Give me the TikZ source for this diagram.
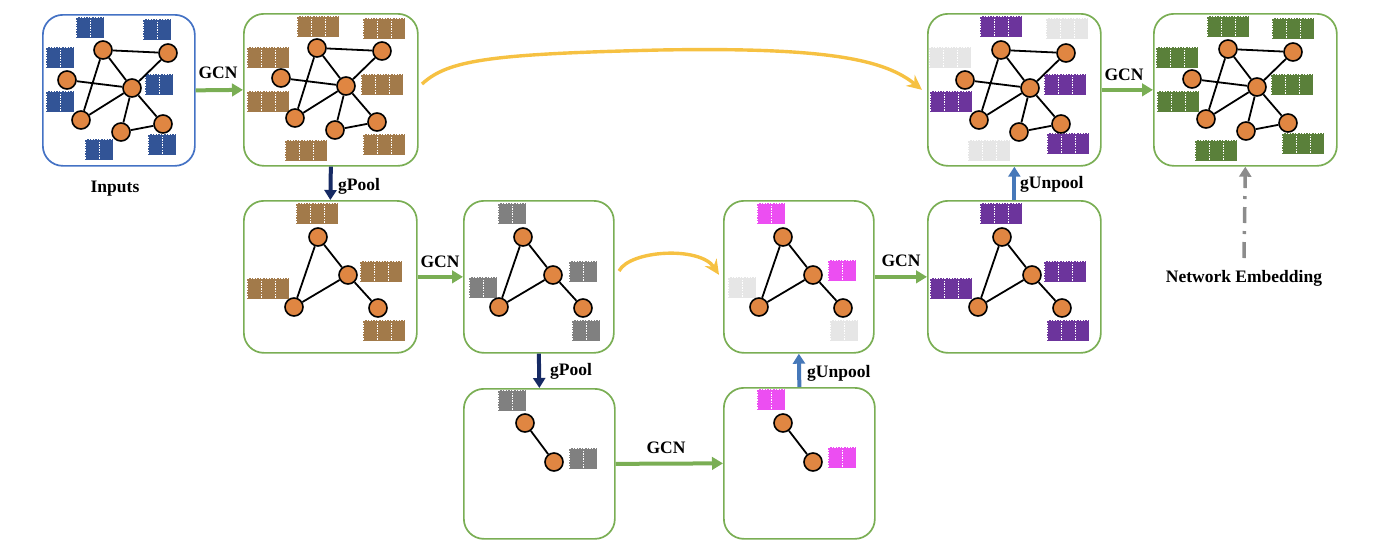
\documentclass[tikz,border=0pt]{standalone}
\usepackage{fontspec}
\setmainfont{Liberation Serif}
\usetikzlibrary{arrows.meta,calc}
\definecolor{bxblue}{RGB}{68,114,196}
\definecolor{bxgreen}{RGB}{122,174,84}
\definecolor{navy}{RGB}{22,42,100}
\definecolor{steel}{RGB}{70,120,185}
\definecolor{yel}{RGB}{246,193,66}
\definecolor{orng}{RGB}{224,134,66}
\definecolor{cblue}{RGB}{50,84,150}
\definecolor{cbrown}{RGB}{162,122,74}
\definecolor{cgray}{RGB}{128,128,128}
\definecolor{clgray}{RGB}{230,230,230}
\definecolor{cpurple}{RGB}{108,52,156}
\definecolor{cmag}{RGB}{236,78,242}
\definecolor{cgreen}{RGB}{90,128,58}
\definecolor{dgray}{RGB}{140,140,140}
\newcommand\blk[4]{\foreach \i in {1,...,#3}{\path[fill=#4,draw=white,line width=0.9pt,dash pattern=on 1.3pt off 1.3pt] ({#1+(\i-1)*14},#2) rectangle ++(14,21);}}
\newcommand\biggraph[3]{%
 \node[gnode] (#1a) at (#2,#3) {};
 \node[gnode] (#1b) at ({#2+65},{#3+3}) {};
 \node[gnode] (#1c) at ({#2-36},{#3+30}) {};
 \node[gnode] (#1d) at ({#2+29},{#3+38}) {};
 \node[gnode] (#1e) at ({#2-22},{#3+70}) {};
 \node[gnode] (#1f) at ({#2+18},{#3+82}) {};
 \node[gnode] (#1g) at ({#2+60},{#3+74}) {};
 \draw[gedge] (#1a)--(#1b) (#1a)--(#1d) (#1a)--(#1e) (#1c)--(#1d) (#1b)--(#1d) (#1d)--(#1e) (#1d)--(#1f) (#1d)--(#1g) (#1f)--(#1g);}
\newcommand\smallgraph[3]{%
 \node[gnode] (#1a) at (#2,#3) {};
 \node[gnode] (#1b) at ({#2+30},{#3+38}) {};
 \node[gnode] (#1c) at ({#2-24},{#3+70}) {};
 \node[gnode] (#1d) at ({#2+60},{#3+71}) {};
 \draw[gedge] (#1a)--(#1b) (#1a)--(#1c) (#1b)--(#1c) (#1b)--(#1d);}
\begin{document}
\begin{tikzpicture}[x=1pt,y=-1pt,
  gnode/.style={circle,fill=orng,draw=black,line width=1.6pt,minimum size=18pt,inner sep=0pt},
  gedge/.style={line width=1.8pt,black},
  boxg/.style={draw=bxgreen,line width=1.7pt,rounded corners=20pt,anchor=north west,inner sep=0pt},
  boxb/.style={boxg,draw=bxblue},
  garrow/.style={draw=bxgreen,line width=4pt,-{Triangle[length=11pt,width=12.5pt]}},
  parrow/.style={draw=navy,line width=4pt,-{Triangle[length=10pt,width=12pt]}},
  uarrow/.style={draw=steel,line width=4pt,-{Triangle[length=10pt,width=12pt]}},
  yarrow/.style={draw=yel,line width=3.4pt,-{Stealth[length=15pt,width=14pt,inset=5pt]}},
  lbl/.style={font=\fontsize{17.5}{20}\selectfont\bfseries,inner sep=0pt}]
\useasboundingbox (0,0) rectangle (1390,558);
% boxes
\node[boxb,minimum width=152pt,minimum height=151pt] (A) at (42,14) {};
\node[boxg,minimum width=174pt,minimum height=152pt] (B) at (243,13) {};
\node[boxg,minimum width=173pt,minimum height=152pt] (C) at (927,13) {};
\node[boxg,minimum width=183pt,minimum height=152pt] (D) at (1153,13) {};
\node[boxg,minimum width=173pt,minimum height=152pt] (E) at (243,200) {};
\node[boxg,minimum width=150pt,minimum height=152pt] (F) at (463,200) {};
\node[boxg,minimum width=150pt,minimum height=152pt] (G) at (723,200) {};
\node[boxg,minimum width=173pt,minimum height=152pt] (H) at (927,200) {};
\node[boxg,minimum width=151pt,minimum height=150pt] (I) at (463,388) {};
\node[boxg,minimum width=151pt,minimum height=151pt] (J) at (723,387) {};
% feature blocks
\blk{76}{17}{2}{cblue}\blk{143}{19}{2}{cblue}\blk{46}{47}{2}{cblue}\blk{145}{74}{2}{cblue}
\blk{46}{91}{2}{cblue}\blk{148}{134}{2}{cblue}\blk{85}{139}{2}{cblue}
\blk{297}{16}{3}{cbrown}\blk{363}{18}{3}{cbrown}\blk{247}{47}{3}{cbrown}\blk{361}{74}{3}{cbrown}
\blk{247}{91}{3}{cbrown}\blk{363}{134}{3}{cbrown}\blk{285}{140}{3}{cbrown}
\blk{980}{16}{3}{cpurple}\blk{1046}{18}{3}{clgray}\blk{929}{47}{3}{clgray}\blk{1044}{74}{3}{cpurple}
\blk{930}{91}{3}{cpurple}\blk{1047}{133}{3}{cpurple}\blk{968}{140}{3}{clgray}
\blk{1207}{16}{3}{cgreen}\blk{1272}{18}{3}{cgreen}\blk{1156}{47}{3}{cgreen}\blk{1271}{74}{3}{cgreen}
\blk{1157}{91}{3}{cgreen}\blk{1282}{133}{3}{cgreen}\blk{1195}{140}{3}{cgreen}
\blk{296}{203}{3}{cbrown}\blk{360}{261}{3}{cbrown}\blk{247}{278}{3}{cbrown}\blk{363}{320}{3}{cbrown}
\blk{498}{203}{2}{cgray}\blk{569}{261}{2}{cgray}\blk{469}{277}{2}{cgray}\blk{572}{320}{2}{cgray}
\blk{757}{203}{2}{cmag}\blk{828}{260}{2}{cmag}\blk{728}{277}{2}{clgray}\blk{830}{320}{2}{clgray}
\blk{980}{203}{3}{cpurple}\blk{1044}{261}{3}{cpurple}\blk{930}{278}{3}{cpurple}\blk{1047}{320}{3}{cpurple}
\blk{498}{390}{2}{cgray}\blk{569}{448}{2}{cgray}
\blk{757}{389}{2}{cmag}\blk{828}{447}{2}{cmag}
% graphs
\biggraph{ga}{103}{50}
\biggraph{gb}{317}{48}
\biggraph{gc}{1001}{50}
\biggraph{gd}{1228}{49}
\smallgraph{ge}{318}{237}
\smallgraph{gf}{523}{237}
\smallgraph{gg}{783}{237}
\smallgraph{gh}{1002}{237}
\node[gnode] (ia) at (525,423) {};
\node[gnode] (ib) at (554,462) {};
\draw[gedge] (ia)--(ib);
\node[gnode] (ja) at (783,423) {};
\node[gnode] (jb) at (813,462) {};
\draw[gedge] (ja)--(jb);
% arrows
\draw[garrow] (A.east) -- (B.west);
\draw[garrow] (E.east) -- (F.west);
\draw[garrow] (I.east) -- (J.west);
\draw[garrow] (G.east) -- (H.west);
\draw[garrow] (C.east) -- (D.west);
\draw[parrow] (B.south) -- (E.north);
\draw[parrow] (F.south) -- (I.north);
\draw[uarrow] (J.north) -- (G.south);
\draw[uarrow] (H.north) -- (C.south);
\coordinate (y1s) at (422,84);
\coordinate (y1e) at ($(C.west)+(-5,0)$);
\draw[yarrow] (y1s) .. controls (448,60) and (490,54) .. (660,50) .. controls (830,47) and (885,60) .. (y1e);
\coordinate (y2s) at (619,271);
\coordinate (y2e) at ($(G.west)+(-4,-2)$);
\draw[yarrow] (y2s) .. controls (630,250) and (700,246) .. (y2e);
% labels
\node[lbl,anchor=base] (l1) at (218,78) {GCN};
\node[lbl,anchor=base] (l2) at (440,267) {GCN};
\node[lbl,anchor=base] (l3) at (666,453) {GCN};
\node[lbl,anchor=base] (l4) at (901,266) {GCN};
\node[lbl,anchor=base] (l5) at (1124,80) {GCN};
\node[lbl,anchor=base west] (p1) at (338,190) {gPool};
\node[lbl,anchor=base west] (p2) at (550,375) {gPool};
\node[lbl,anchor=base west] (u1) at (807,377) {gUnpool};
\node[lbl,anchor=base west] (u2) at (1020,188) {gUnpool};
\node[lbl,anchor=base] (inp) at (115,192) {Inputs};
\node[lbl,anchor=base] (ne) at (1244,282) {Network Embedding};
\coordinate (nes) at (1244,258);
\draw[draw=dgray,line width=3.5pt,dash pattern=on 16pt off 8pt on 3pt off 8pt,-{Triangle[length=10pt,width=12pt]}] (nes) -- (D.south);
\end{tikzpicture}
\end{document}
